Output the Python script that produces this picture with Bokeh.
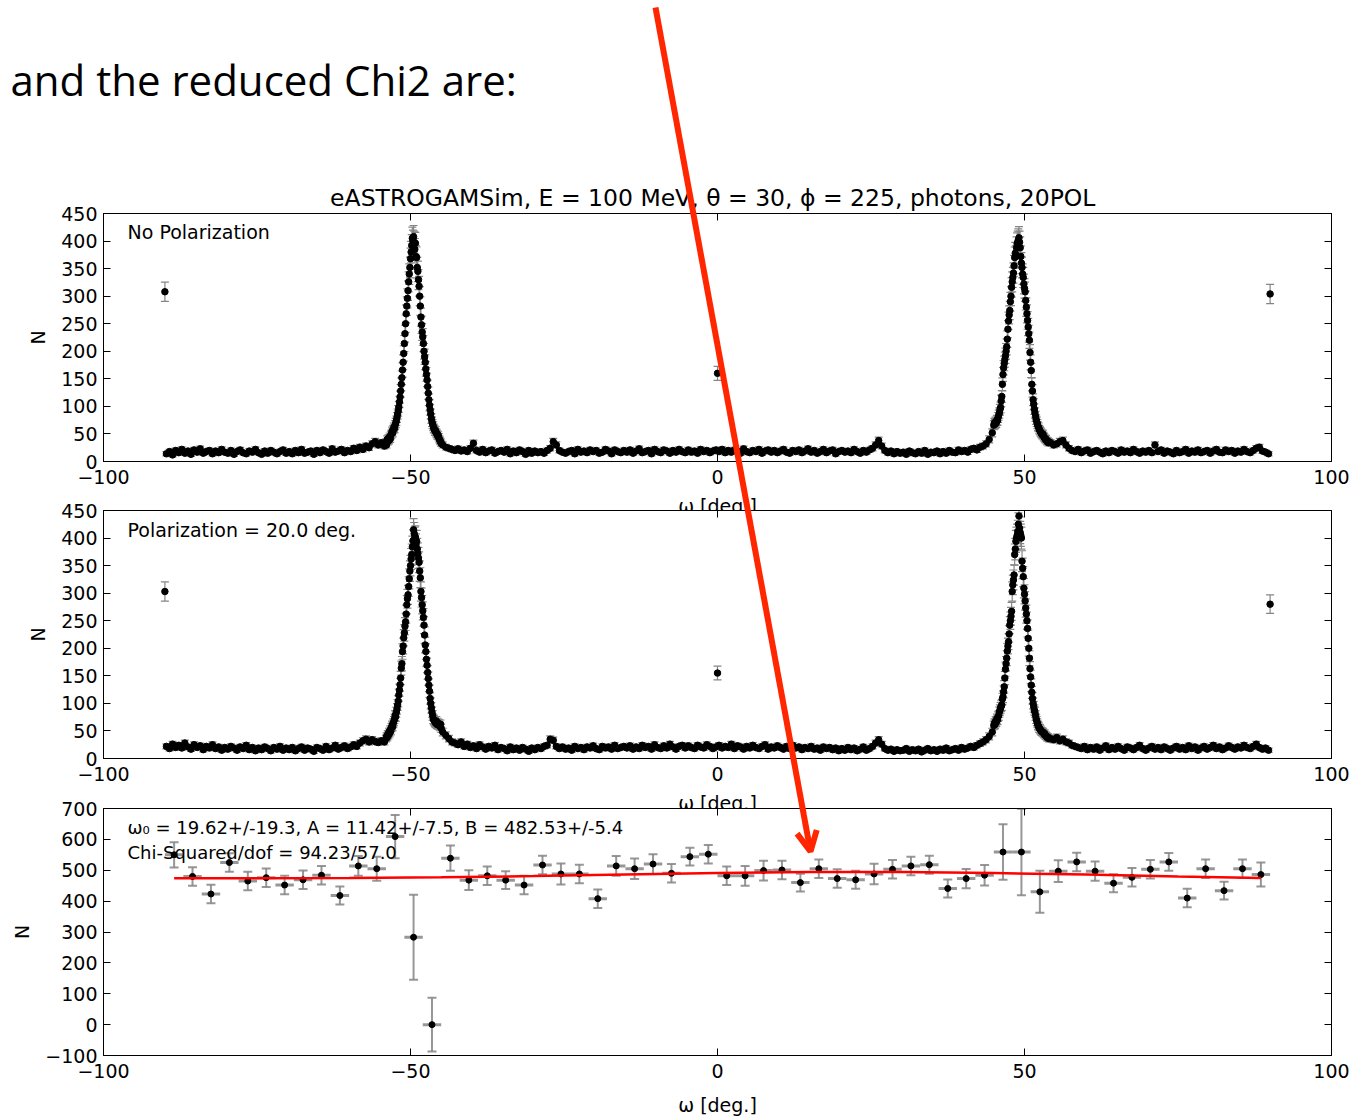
import numpy as np
from bokeh.plotting import figure
from bokeh.models import (ColumnDataSource, Whisker, TeeHead, Label, Arrow, OpenHead,
                          LinearAxis, FixedTicker, Range1d)
from bokeh.embed import file_html
from bokeh.resources import INLINE

# ======================= DATA =======================
header_text = "and the reduced Chi2 are:"
title_text = "eASTROGAMSim, E = 100 MeV,  \u03b8 = 30, \u03d5 = 225, photons, 20POL"
panel1_note = "No Polarization"
panel2_note = "Polarization = 20.0 deg."
fit_note_1 = "\u03c9\u2080 = 19.62+/-19.3, A = 11.42+/-7.5, B = 482.53+/-5.4"
fit_note_2 = "Chi-Squared/dof = 94.23/57.0"
x_label = "\u03c9 [deg.]"
y_label = "N"

x_ticks = [-100, -50, 0, 50, 100]
y_ticks_top = [0, 50, 100, 150, 200, 250, 300, 350, 400, 450]
y_ticks_bottom = [-100, 0, 100, 200, 300, 400, 500, 600, 700]

# isolated bins at omega = -90, 0, +90
iso_x = [-90.0, 0.0, 90.0]
p1_iso_y = [308, 160, 304]
p2_iso_y = [303, 155, 280]

# first bin centre of each stretch (coarse stretches: 0.5 deg bins, peak stretches: 0.1 deg bins)
coarse_left_start, coarse_mid_start, coarse_right_start = -89.75, -44.75, 54.25
peak_left_start, peak_right_start = -54.0, 45.0
coarse_step, fine_step = 0.5, 0.1

# ---- panel 1 : No Polarization ----
p1_coarse_left = [
    14, 18, 12, 20, 16, 22, 15, 19, 13, 21,
    17, 23, 15, 18, 20, 14, 19, 16, 22, 17,
    15, 20, 13, 18, 21, 16, 14, 19, 17, 22,
    16, 13, 19, 15, 20, 17, 14, 18, 21, 15,
    18, 14, 20, 16, 22, 15, 17, 19, 13, 20,
    16, 21, 18, 15, 23, 17, 19, 22, 16, 20,
    18, 24, 20, 26, 22, 28, 25, 32, 36, 30,
    34, 28]
p1_peak_left = [
    35, 30, 40, 36, 42, 38, 45, 41, 48, 50,
    55, 52, 58, 62, 60, 66, 70, 74, 80, 86,
    92, 99, 108, 117, 128, 140, 152, 166, 180, 196,
    214, 232, 250, 268, 282, 296, 310, 326, 340, 352,
    368, 380, 392, 405, 400, 408, 398, 385, 396, 372,
    370, 352, 345, 330, 318, 300, 282, 262, 248, 235,
    226, 214, 200, 190, 180, 168, 158, 148, 136, 124,
    112, 102, 94, 86, 78, 72, 68, 64, 60, 58,
    55, 56, 52, 50, 47, 48, 44, 40, 38, 36,
    33]
p1_coarse_mid = [
    30, 26, 24, 22, 20, 23, 19, 21, 18, 24,
    33, 20, 17, 22, 16, 19, 21, 15, 18, 20,
    17, 22, 14, 19, 16, 21, 18, 13, 20, 15,
    19, 16, 18, 15, 20, 24, 36, 30, 20, 17,
    15, 18, 20, 14, 22, 17, 19, 16, 21, 18,
    20, 15, 17, 22, 19, 14, 21, 18, 16, 20,
    17, 21, 15, 19, 23, 16, 18, 20, 14, 22,
    18, 16, 21, 19, 15, 20, 17, 22, 18, 16,
    21, 17, 19, 15, 22, 18, 20, 16, 19, 21,
    18, 22, 16, 20, 17, 21, 19, 15, 23, 18,
    16, 20, 18, 22, 15, 19, 21, 17, 20, 16,
    19, 22, 17, 15, 20, 18, 21, 16, 19, 23,
    17, 20, 15, 18, 22, 16, 19, 21, 14, 18,
    20, 17, 19, 16, 22, 18, 15, 20, 17, 21,
    24, 30, 38, 28, 20, 16, 19, 14, 18, 15,
    17, 13, 19, 16, 14, 18, 15, 20, 13, 17,
    16, 19, 14, 18, 15, 20, 17, 16, 21, 18,
    20, 17, 22, 24, 21, 26, 28, 32, 40, 52]
p1_peak_right = [
    66, 70, 68, 72, 70, 75, 74, 80, 84, 88,
    94, 98, 110, 118, 140, 158, 170, 178, 185, 192,
    200, 208, 222, 240, 255, 266, 274, 290, 300, 316,
    326, 334, 342, 355, 370, 378, 372, 388, 395, 398,
    402, 406, 398, 388, 372, 360, 352, 340, 334, 322,
    314, 308, 292, 280, 268, 256, 244, 232, 220, 198,
    180, 165, 140, 128, 112, 104, 95, 88, 82, 76,
    72, 68, 64, 62, 58, 56, 54, 52, 50, 48,
    50, 46, 44, 42, 40, 41, 38, 36, 37, 34,
    35]
p1_coarse_right = [
    34, 30, 32, 36, 38, 30, 24, 20, 18, 22,
    16, 19, 21, 15, 18, 20, 17, 14, 19, 16,
    20, 18, 15, 21, 17, 19, 16, 22, 18, 15,
    19, 17, 20, 16, 30, 18, 21, 15, 19, 17,
    14, 20, 16, 18, 22, 15, 19, 17, 21, 16,
    18, 20, 15, 19, 22, 17, 16, 21, 18, 20,
    15, 19, 17, 22, 18, 16, 20, 24, 26, 19,
    17, 14]

# ---- panel 2 : Polarization = 20 deg ----
p2_coarse_left = [
    22, 18, 26, 20, 24, 19, 28, 21, 17, 25,
    20, 23, 16, 22, 19, 25, 18, 21, 15, 20,
    17, 22, 19, 15, 21, 18, 24, 16, 20, 14,
    19, 16, 21, 18, 14, 20, 17, 22, 15, 19,
    16, 20, 14, 18, 21, 15, 19, 17, 13, 20,
    18, 15, 22, 16, 19, 24, 17, 20, 23, 18,
    21, 25, 22, 28, 32, 35, 30, 34, 31, 29,
    32, 30]
p2_peak_left = [
    36, 40, 38, 44, 42, 48, 46, 52, 50, 56,
    60, 58, 64, 68, 72, 78, 76, 84, 90, 97,
    104, 115, 124, 134, 146, 164, 172, 194, 204, 219,
    228, 240, 248, 262, 279, 290, 297, 312, 326, 340,
    350, 362, 370, 384, 395, 415, 408, 400, 402, 388,
    394, 380, 372, 364, 356, 340, 328, 303, 292, 279,
    268, 256, 242, 224, 206, 194, 180, 169, 156, 145,
    133, 122, 109, 100, 92, 84, 78, 72, 70, 68,
    66, 64, 68, 62, 65, 61, 63, 60, 58, 62,
    55]
p2_coarse_mid = [
    48, 42, 36, 30, 28, 25, 30, 22, 26, 20,
    23, 18, 25, 21, 17, 22, 19, 24, 16, 20,
    18, 14, 21, 16, 19, 15, 20, 17, 13, 19,
    16, 20, 18, 22, 24, 35, 33, 22, 18, 21,
    17, 19, 15, 22, 18, 20, 16, 21, 19, 23,
    18, 16, 22, 19, 21, 17, 24, 18, 20, 22,
    19, 23, 17, 21, 18, 24, 20, 22, 17, 25,
    20, 18, 23, 19, 26, 21, 17, 22, 24, 19,
    23, 20, 18, 24, 21, 19, 25, 22, 18, 21,
    24, 19, 22, 20, 26, 18, 23, 21, 17, 22,
    19, 24, 20, 18, 22, 25, 17, 21, 19, 23,
    20, 17, 22, 18, 24, 19, 21, 16, 20, 18,
    22, 17, 19, 15, 21, 18, 20, 16, 19, 14,
    18, 15, 20, 16, 19, 14, 17, 21, 15, 18,
    22, 28, 34, 26, 18, 15, 17, 13, 16, 14,
    15, 18, 13, 16, 14, 17, 12, 15, 18, 14,
    16, 13, 17, 15, 19, 14, 16, 18, 15, 20,
    17, 19, 22, 20, 24, 27, 30, 34, 40, 48]
p2_peak_right = [
    60, 64, 62, 68, 66, 72, 70, 76, 78, 84,
    88, 92, 95, 97, 108, 112, 121, 130, 146, 162,
    172, 182, 195, 204, 212, 226, 242, 250, 258, 267,
    303, 315, 324, 333, 370, 380, 394, 400, 405, 412,
    425, 440, 418, 410, 405, 400, 358, 345, 330, 309,
    298, 286, 273, 262, 250, 236, 218, 200, 182, 163,
    148, 133, 120, 109, 100, 94, 88, 84, 78, 72,
    68, 64, 60, 58, 55, 54, 52, 50, 49, 48,
    48, 46, 44, 45, 42, 41, 40, 38, 39, 37,
    36]
p2_coarse_right = [
    36, 34, 38, 32, 35, 30, 28, 24, 22, 20,
    18, 22, 16, 20, 17, 21, 15, 19, 23, 16,
    20, 17, 22, 18, 15, 21, 19, 16, 20, 24,
    18, 15, 19, 22, 17, 20, 16, 21, 18, 15,
    19, 22, 17, 20, 16, 23, 18, 21, 15, 19,
    22, 17, 20, 24, 18, 21, 16, 19, 23, 20,
    17, 21, 19, 24, 20, 18, 22, 26, 20, 17,
    19, 15]

# ---- panel 3 : 3-degree bins with fit ----
p3_first_center, p3_bin_width = -88.5, 3.0
p3_y = [
    550, 480, 423, 525, 465, 476, 452, 469, 484, 418,
    514, 505, 609, 283, 0, 539, 468, 482, 468, 452,
    517, 488, 488, 408, 514, 505, 520, 490, 544, 552,
    482, 482, 499, 501, 460, 505, 473, 469, 488, 503,
    514, 518, 441, 473, 484, 559, 559, 430, 497, 527,
    497, 458, 477, 503, 527, 410, 505, 434, 505, 486]
p3_yerr = [
    41, 30, 30, 30, 30, 30, 30, 30, 30, 29,
    32, 39, 70, 138, 87, 41, 32, 30, 29, 30,
    30, 34, 30, 30, 32, 33, 32, 30, 29, 30,
    30, 32, 32, 30, 29, 30, 30, 29, 33, 30,
    30, 29, 29, 31, 33, 90, 140, 68, 35, 30,
    31, 29, 30, 30, 29, 30, 30, 29, 30, 39]
fit_x = [-88.5, -75, -60, -45, -30, -15, 0, 15, 30, 45, 60, 75, 88.5]
fit_y = [474, 474, 475, 477, 481, 486, 491, 494, 494, 491, 486, 480, 475]

# ======================= LAYOUT / STYLE =======================
FONT = "DejaVu Sans"
W, H = 1364, 1116
FL, FR = 103, 1331          # frame left / right (page px)
# (canvas_top, canvas_height, frame_top, frame_bottom) in page px
G1 = (0, 530, 213, 461)
G2 = (500, 330, 510, 758)
G3 = (798, 318, 808, 1055)
ERR_COLOR = "#858585"
RED = "#ff2600"


def page_to_data(geom, yr, px, py):
    _, _, ft, fb = geom
    x = -100 + (px - FL) * 200.0 / (FR - FL)
    y = yr[1] - (py - ft) * (yr[1] - yr[0]) / (fb - ft)
    return x, y


def style_axis(ax, labels=True, standoff=6):
    ax.axis_line_color = "black"
    ax.axis_line_width = 1
    ax.major_tick_line_color = "black"
    ax.major_tick_line_width = 1
    ax.major_tick_in = 7
    ax.major_tick_out = 0
    ax.minor_tick_line_color = None
    ax.major_label_text_font = FONT
    if labels:
        ax.major_label_text_color = "black"
        ax.major_label_text_font_size = "19px"
        ax.major_label_standoff = standoff
    else:
        ax.major_label_text_color = None
        ax.major_label_text_font_size = "1px"
        ax.major_label_standoff = 0


def make_fig(geom, yr, yticks, z, opaque_border, with_xlabel):
    top, h, ft, fb = geom
    p = figure(width=W, height=h, output_backend="svg", toolbar_location=None, tools="",
               x_range=Range1d(-100, 100), y_range=Range1d(*yr),
               min_border_left=FL, min_border_right=W - FR,
               min_border_top=ft - top, min_border_bottom=top + h - fb,
               background_fill_color="white",
               border_fill_color="white" if opaque_border else None,
               outline_line_color="black", outline_line_width=1)
    p.styles = {"position": "absolute", "left": "0px", "top": f"{top}px", "z-index": str(z)}
    p.grid.visible = False
    below = p.below[0]
    left = p.left[0]
    below.ticker = FixedTicker(ticks=x_ticks)
    below.major_label_overrides = {v: str(v).replace("-", "\u2212") for v in x_ticks}
    style_axis(below, standoff=8)
    if with_xlabel:
        below.axis_label = x_label
        below.axis_label_text_font = FONT
        below.axis_label_text_font_size = "19px"
        below.axis_label_text_font_style = "normal"
        below.axis_label_text_color = "black"
        below.axis_label_standoff = 8
    left.ticker = FixedTicker(ticks=yticks)
    left.major_label_overrides = {v: str(v).replace("-", "\u2212") for v in yticks}
    style_axis(left, standoff=6)
    left.axis_label = y_label
    left.axis_label_text_font = FONT
    left.axis_label_text_font_size = "19px"
    left.axis_label_text_font_style = "normal"
    left.axis_label_text_color = "black"
    left.axis_label_standoff = 9
    right = LinearAxis(ticker=FixedTicker(ticks=yticks))
    style_axis(right, labels=False)
    p.add_layout(right, "right")
    above = LinearAxis(ticker=FixedTicker(ticks=x_ticks))
    style_axis(above, labels=False)
    p.add_layout(above, "above")
    return p


def add_text(p, geom, yr, text, px, py, size):
    x, y = page_to_data(geom, yr, px, py)
    p.add_layout(Label(x=x, y=y, text=text, text_font=FONT, text_font_size=size,
                       text_color="black", text_align="left", text_baseline="middle"))


def assemble(cl, pl, cm, pr, cr, iso_y):
    xs = np.concatenate([
        coarse_left_start + coarse_step * np.arange(len(cl)),
        peak_left_start + fine_step * np.arange(len(pl)),
        coarse_mid_start + coarse_step * np.arange(len(cm)),
        peak_right_start + fine_step * np.arange(len(pr)),
        coarse_right_start + coarse_step * np.arange(len(cr)),
        np.array(iso_x, dtype=float)])
    ys = np.array(cl + pl + cm + pr + cr + iso_y, dtype=float)
    return xs, ys


def draw_counts(p, xs, ys):
    err = np.sqrt(ys)
    src = ColumnDataSource(dict(x=xs, y=ys, lo=ys - err, hi=ys + err))
    w = Whisker(source=src, base="x", lower="lo", upper="hi", dimension="height",
                line_color=ERR_COLOR, line_width=1.2,
                upper_head=TeeHead(size=8, line_color=ERR_COLOR, line_width=1.2),
                lower_head=TeeHead(size=8, line_color=ERR_COLOR, line_width=1.2))
    p.add_layout(w)
    p.scatter("x", "y", source=src, size=6.5, color="black")


# ---------------- panel 1 ----------------
YR1 = (0, 450)
p1 = make_fig(G1, YR1, y_ticks_top, 1, True, True)
x1s, y1s = assemble(p1_coarse_left, p1_peak_left, p1_coarse_mid, p1_peak_right,
                    p1_coarse_right, p1_iso_y)
draw_counts(p1, x1s, y1s)
add_text(p1, G1, YR1, panel1_note, 127, 231, "19px")

# ---------------- panel 2 ----------------
YR2 = (0, 450)
p2 = make_fig(G2, YR2, y_ticks_top, 2, False, True)
x2s, y2s = assemble(p2_coarse_left, p2_peak_left, p2_coarse_mid, p2_peak_right,
                    p2_coarse_right, p2_iso_y)
draw_counts(p2, x2s, y2s)
add_text(p2, G2, YR2, panel2_note, 127, 529, "19px")

# ---------------- panel 3 ----------------
YR3 = (-100, 700)
p3 = make_fig(G3, YR3, y_ticks_bottom, 3, False, False)
x3 = p3_first_center + p3_bin_width * np.arange(len(p3_y))
y3 = np.array(p3_y, dtype=float)
e3 = np.array(p3_yerr, dtype=float)
half = p3_bin_width / 2.0
src3 = ColumnDataSource(dict(x=x3, y=y3, lo=y3 - e3, hi=y3 + e3, xl=x3 - half, xh=x3 + half))
p3.add_layout(Whisker(source=src3, base="y", lower="xl", upper="xh", dimension="width",
                      line_color=ERR_COLOR, line_width=3, line_alpha=0.85,
                      upper_head=None, lower_head=None))
p3.add_layout(Whisker(source=src3, base="x", lower="lo", upper="hi", dimension="height",
                      line_color=ERR_COLOR, line_width=2, line_alpha=0.85,
                      upper_head=TeeHead(size=9, line_color=ERR_COLOR, line_width=2, line_alpha=0.85),
                      lower_head=TeeHead(size=9, line_color=ERR_COLOR, line_width=2, line_alpha=0.85)))
p3.scatter("x", "y", source=src3, size=6, color="black")
p3.line(fit_x, fit_y, line_color="red", line_width=2.5)
add_text(p3, G3, YR3, fit_note_1, 127, 827, "18px")
add_text(p3, G3, YR3, fit_note_2, 127, 852, "18px")

# ---------------- slide overlay (page-pixel coordinates) ----------------
ov = figure(width=W, height=H, output_backend="svg", toolbar_location=None, tools="",
            x_range=Range1d(0, W), y_range=Range1d(H, 0),
            x_axis_type=None, y_axis_type=None,
            min_border=0, min_border_left=0, min_border_right=0,
            min_border_top=0, min_border_bottom=0,
            background_fill_color=None, border_fill_color=None, outline_line_color=None)
ov.grid.visible = False
ov.styles = {"position": "absolute", "left": "0px", "top": "0px", "z-index": "10"}
ov.add_layout(Label(x=10, y=79, text=header_text, text_font="Open Sans", text_font_size="42px",
                    text_color="black", text_align="left", text_baseline="alphabetic"))
ov.add_layout(Label(x=716, y=197, text=title_text, text_font=FONT, text_font_size="23.5px",
                    text_color="black", text_align="center", text_baseline="middle"))
ov.add_layout(Label(x=(FL + FR) / 2, y=1104, text=x_label, text_font=FONT, text_font_size="19px",
                    text_color="black", text_align="center", text_baseline="middle"))
ov.add_layout(Arrow(x_start=655, y_start=7, x_end=810, y_end=851,
                    end=OpenHead(size=20, line_color=RED, line_width=6),
                    line_color=RED, line_width=6))

p = [p1, p2, p3, ov]
open("out.html", "w").write(file_html(p, INLINE))
